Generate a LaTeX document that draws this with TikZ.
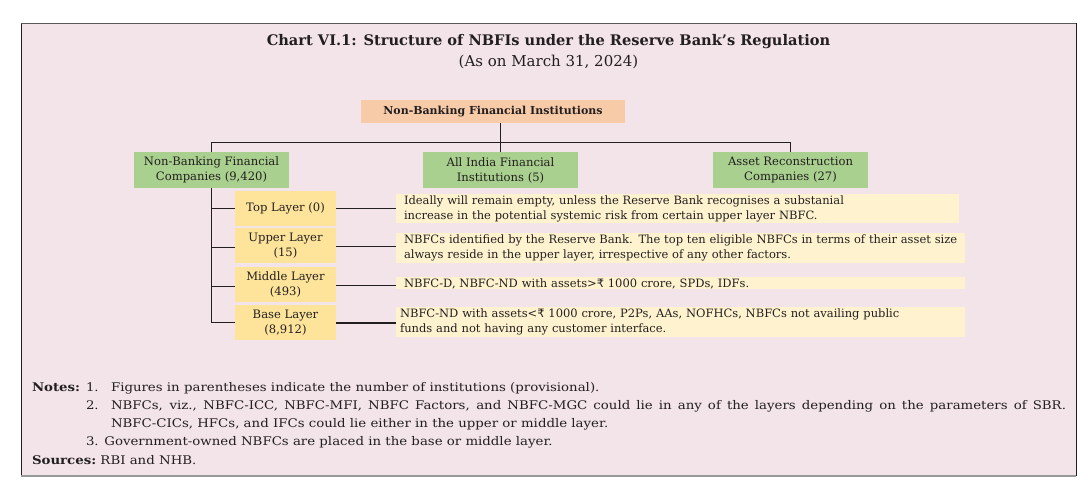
\documentclass[tikz,border=0pt]{standalone}
\usepackage{fontspec}
\setmainfont{DejaVu Serif}
\newfontfamily\rupeefont{DejaVu Sans}
\newfontfamily\notesfont[FakeStretch=1.12]{DejaVu Serif}
\newcommand{\rupee}{{\rupeefont ₹}}
\definecolor{bgpink}{HTML}{F2E4E8}
\definecolor{orangefill}{HTML}{F8CBA8}
\definecolor{greenfill}{HTML}{A9D08E}
\definecolor{layerfill}{HTML}{FDE49A}
\definecolor{descfill}{HTML}{FFF3CF}
\definecolor{linecol}{HTML}{231F20}
\begin{document}
\begin{tikzpicture}[x=1pt,y=-1pt,
  every node/.style={inner sep=0pt, outer sep=0pt, text=linecol},
  boxtext/.style={font=\fontsize{11.6}{15}\selectfont},
  desctext/.style={font=\fontsize{11.5}{15}\selectfont},
  topbox/.style={fill=orangefill, minimum width=264pt, minimum height=23pt, font=\fontsize{11}{13}\selectfont\bfseries},
  catbox/.style={boxtext, fill=greenfill, minimum width=155pt, minimum height=36pt, align=center},
  layerbox/.style={boxtext, fill=layerfill, minimum width=101pt, minimum height=35pt, align=center},
  descbox/.style={desctext, fill=descfill, anchor=west, align=left, inner xsep=0pt},
  conn/.style={draw=linecol, line width=0.9pt},
  notetext/.style={font=\notesfont\fontsize{11.9}{13}\selectfont, anchor=base west}
]
\useasboundingbox (0,0) rectangle (1088,485);
% frame
\fill[bgpink] (21,23) rectangle (1076,476);
\draw[linecol, line width=1pt] (21,476) -- (21,23);
\draw[gray!70!black, line width=1pt] (21,23) -- (1076,23);
\draw[linecol, line width=1pt] (1076,23) -- (1076,476);
\draw[gray!80, line width=2.2pt] (21,476) -- (1076,476);

% title
\node[font=\fontsize{14.6}{17}\selectfont\bfseries] (title) at (548.5,42) {Chart VI.1: Structure of NBFIs under the Reserve Bank's Regulation};
\node[font=\fontsize{15}{17}\selectfont] (subtitle) at (548.5,62) {(As on March 31, 2024)};

% top box
\node[topbox] (nbfi) at (493,111.5) {Non-Banking Financial Institutions};

% categories
\node[catbox] (nbfc) at (211.5,170) {Non-Banking Financial\\Companies (9,420)};
\node[catbox] (aifi) at (500.5,170) {All India Financial\\Institutions (5)};
\node[catbox] (arc) at (790.5,170) {Asset Reconstruction\\Companies (27)};

% layers
\node[layerbox] (top) at (285.5,208.5) {Top Layer (0)};
\node[layerbox] (upper) at (285.5,245.5) {Upper Layer\\(15)};
\node[layerbox] (middle) at (285.5,284.5) {Middle Layer\\(493)};
\node[layerbox] (base) at (285.5,322.5) {Base Layer\\(8,912)};

% descriptions
\node[descbox, minimum width=563pt, minimum height=29pt, text width=547pt, inner xsep=8pt] (d1) at (396,208.5) {\mbox{Ideally will remain empty, unless the Reserve Bank recognises a substanial}\\\mbox{increase in the potential systemic risk from certain upper layer NBFC.}};
\node[descbox, minimum width=569pt, minimum height=30pt, text width=553pt, inner xsep=8pt] (d2) at (396,248) {\mbox{NBFCs identified by the Reserve Bank. The top ten eligible NBFCs in terms of their asset size}\\\mbox{always reside in the upper layer, irrespective of any other factors.}};
\fill[descfill] (396,277) rectangle (965,289);
\node[descbox, text width=553pt, inner xsep=8pt, text height=8pt, text depth=2pt] (d3) at (396,284) {\mbox{NBFC-D, NBFC-ND with assets>\rupee\ 1000 crore, SPDs, IDFs.}};
\node[descbox, minimum width=569pt, minimum height=30pt, text width=561pt, inner xsep=4pt] (d4) at (396,322) {\mbox{NBFC-ND with assets<\rupee\ 1000 crore, P2Ps, AAs, NOFHCs, NBFCs not availing public}\\\mbox{funds and not having any customer interface.}};

% connectors
\draw[conn] (nbfi.south -| aifi.north) -- (aifi.north);
\draw[conn] (nbfc.north) -- ++(0,-10) -| (arc.north);
\draw[conn] (nbfc.south) |- (base.west);
\draw[conn, line width=1.8pt] (nbfc.south |- base.west) -- (base.west);
\draw[conn] (nbfc.south |- top.west) -- (top.west);
\draw[conn] (nbfc.south |- 0,247) -- (upper.west |- 0,247);
\draw[conn] (nbfc.south |- 0,286) -- (middle.west |- 0,286);
\draw[conn] (top.east) -- (d1.west);
\draw[conn] (upper.east |- 0,246.5) -- (d2.west |- 0,246.5);
\draw[conn] (middle.east |- 0,285.5) -- (d3.west |- 0,285.5);
\draw[conn, line width=1.5pt] (base.east |- 0,323) -- (d4.west |- 0,323);

% notes
\node[notetext, font=\notesfont\fontsize{11.9}{13}\selectfont\bfseries] (noteslbl) at (32,391) {Notes:};
\node[notetext] (n1num) at (86,391) {1.};
\node[notetext] (n1) at (111,391) {Figures in parentheses indicate the number of institutions (provisional).};
\node[notetext] (n2num) at (86,409) {2.};
\node[notetext, anchor=north west, text width=955pt, align=justify, font=\notesfont\fontsize{11.9}{18}\selectfont] (n2) at (111,400) {NBFCs, viz., NBFC-ICC, NBFC-MFI, NBFC Factors, and NBFC-MGC could lie in any of the layers depending on the parameters of SBR.\linebreak NBFC-CICs, HFCs, and IFCs could lie either in the upper or middle layer.};
\node[notetext] (n3) at (86,445) {3. Government-owned NBFCs are placed in the base or middle layer.};
\node[notetext, font=\notesfont\fontsize{11.9}{13}\selectfont\bfseries] (srclbl) at (32,464) {Sources:};
\node[notetext] (src) at (srclbl.base east) {\ RBI and NHB.};
\end{tikzpicture}
\end{document}
